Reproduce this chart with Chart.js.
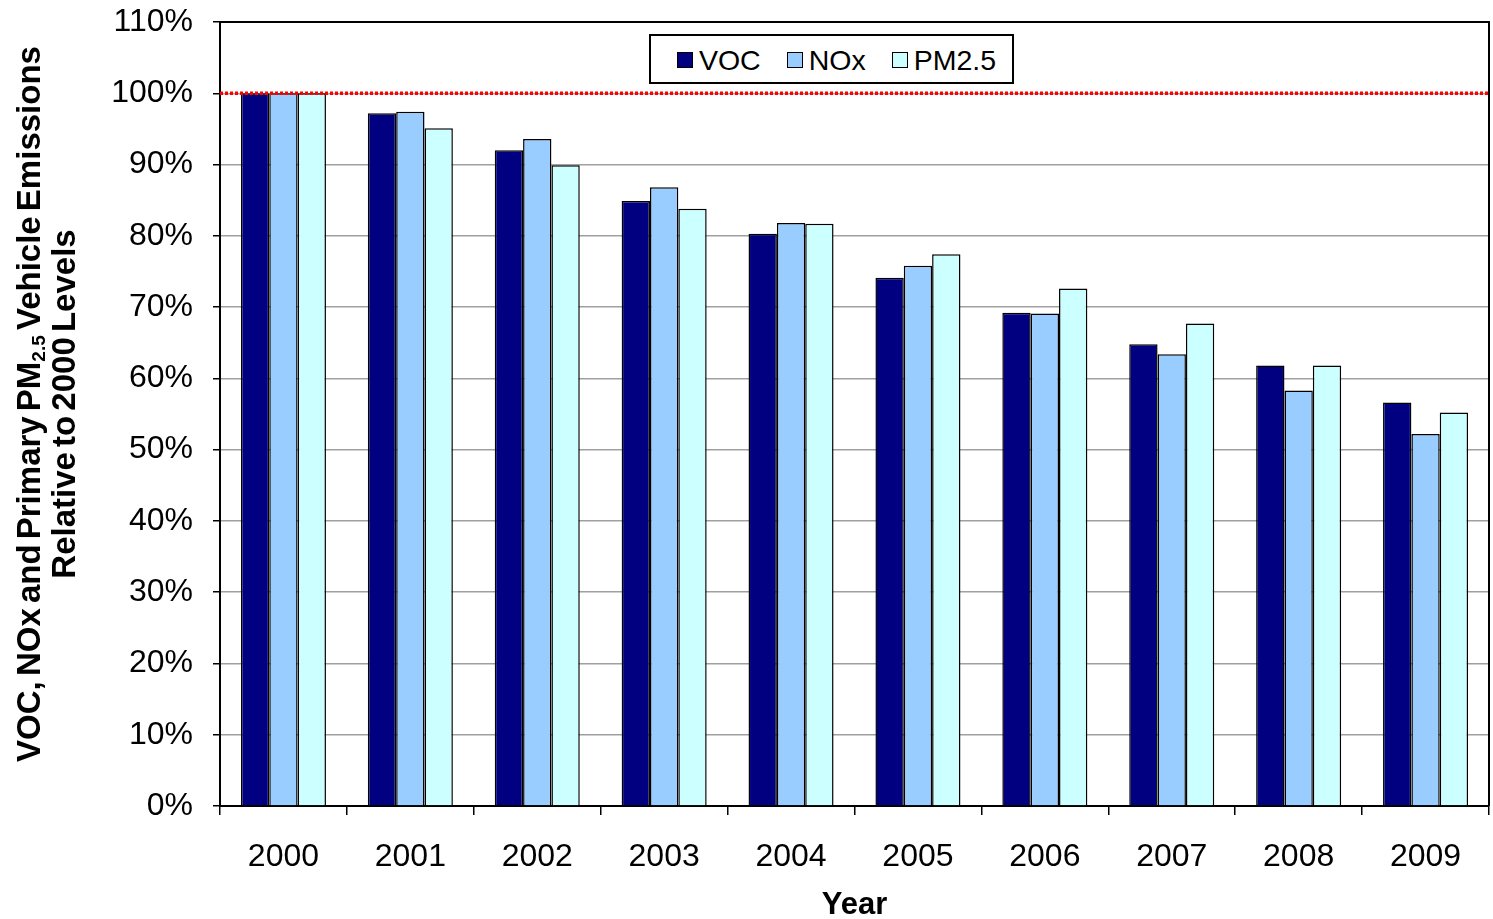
<!DOCTYPE html>
<html>
<head>
<meta charset="utf-8">
<title>Vehicle emissions relative to 2000</title>
<script src="https://cdn.jsdelivr.net/npm/chart.js@4.4.1/dist/chart.umd.min.js"></script>
<style>
    html, body { margin: 0; padding: 0; background: #fff; }
    #wrap { position: relative; width: 1493px; height: 919px; overflow: hidden; }
    #yTitle {
        position: absolute;
        left: -334px;
        top: 369px;
        width: 760px;
        height: 70px;
        transform: rotate(-90deg);
        font-family: "Liberation Sans", Arial, sans-serif;
        font-weight: bold;
        font-size: 33px;
        line-height: 35px;
        word-spacing: -4px;
        text-align: center;
        color: #000;
        white-space: nowrap;
    }
    #yTitle sub { font-size: 19px; vertical-align: -5px; line-height: 0; }
    #legend {
        position: absolute;
        left: 649px;
        top: 34px;
        width: 351px;
        height: 44px;
        border: 2px solid #000;
        background: #fff;
        display: flex;
        align-items: center;
        justify-content: center;
        padding: 2px 0 0 10px;
        box-sizing: content-box;
        font-family: "Liberation Sans", Arial, sans-serif;
        font-size: 28.5px;
        color: #000;
    }
    #legend .item { display: flex; align-items: center; margin: 0 13px; }
    #legend .swatch { width: 14px; height: 14px; border: 1.5px solid #000; margin-right: 6px; }
</style>
</head>
<body>
<div id="wrap">
    <canvas id="chart" width="1493" height="919"></canvas>
    <div id="yTitle">VOC, NOx and Primary PM<sub>2.5</sub> Vehicle Emissions<br>Relative to 2000 Levels</div>
    <div id="legend"></div>
</div>
<script>
// ============================================
// DATA (percent of 2000 level)
// ============================================
const years = ['2000', '2001', '2002', '2003', '2004', '2005', '2006', '2007', '2008', '2009'];
const vocValues = [100, 97.2, 92.0, 84.9, 80.3, 74.1, 69.2, 64.8, 61.8, 56.6];
const noxValues = [100, 97.4, 93.6, 86.8, 81.8, 75.8, 69.1, 63.4, 58.3, 52.2];
const pm25Values = [100, 95.1, 89.9, 83.8, 81.7, 77.4, 72.6, 67.7, 61.8, 55.2];
const seriesNames = ['VOC', 'NOx', 'PM2.5'];
const yTicks = [0, 10, 20, 30, 40, 50, 60, 70, 80, 90, 100, 110];
const referenceLevel = 100;

const seriesColors = ['#000080', '#99CCFF', '#CCFFFF'];
const FONT = '"Liberation Sans", Arial, sans-serif';

// red dotted line at the 2000 level, across the whole plot area
const referenceLinePlugin = {
    id: 'referenceLine',
    afterDatasetsDraw(chart) {
        const { ctx, chartArea, scales } = chart;
        const y = scales.y.getPixelForValue(referenceLevel);
        ctx.save();
        ctx.strokeStyle = '#FF0000';
        ctx.lineWidth = 3.5;
        ctx.setLineDash([3, 2]);
        ctx.beginPath();
        ctx.moveTo(chartArea.left, y);
        ctx.lineTo(chartArea.right, y);
        ctx.stroke();
        ctx.restore();
    }
};

// black frame on top and right of the plot area
const plotFramePlugin = {
    id: 'plotFrame',
    beforeDatasetsDraw(chart) {
        const { ctx, chartArea } = chart;
        ctx.save();
        ctx.strokeStyle = '#000';
        ctx.lineWidth = 2;
        ctx.beginPath();
        ctx.moveTo(chartArea.left, chartArea.top);
        ctx.lineTo(chartArea.right, chartArea.top);
        ctx.lineTo(chartArea.right, chartArea.bottom);
        ctx.stroke();
        ctx.restore();
    }
};

function buildLegend(datasets) {
    const legend = document.getElementById('legend');
    legend.innerHTML = datasets.map(ds => `
        <span class="item"><span class="swatch" style="background:${ds.backgroundColor}"></span>${ds.label}</span>
    `).join('');
}

document.addEventListener('DOMContentLoaded', () => {
    const datasets = [vocValues, noxValues, pm25Values].map((values, i) => ({
        label: seriesNames[i],
        data: values,
        backgroundColor: seriesColors[i],
        borderColor: '#000',
        borderWidth: 1.5,
        categoryPercentage: 0.67,
        barPercentage: 1.0
    }));

    new Chart(document.getElementById('chart'), {
        type: 'bar',
        data: { labels: years, datasets },
        options: {
            responsive: false,
            animation: false,
            layout: { padding: { top: 22, right: 4, bottom: 0, left: 0 } },
            plugins: {
                legend: { display: false },
                tooltip: { enabled: false }
            },
            scales: {
                x: {
                    grid: {
                        offset: true,
                        drawOnChartArea: false,
                        tickLength: 9,
                        tickColor: '#000',
                        lineWidth: 1.5
                    },
                    border: { color: '#000', width: 2 },
                    ticks: {
                        color: '#000',
                        font: { family: FONT, size: 32 },
                        padding: 23,
                        maxRotation: 0
                    },
                    title: {
                        display: true,
                        text: 'Year',
                        color: '#000',
                        font: { family: FONT, size: 31, weight: 'bold', lineHeight: 0.85 },
                        padding: { top: 0, bottom: 0 }
                    },
                    afterFit(scale) { scale.height = 113; }
                },
                y: {
                    min: 0,
                    max: 110,
                    afterBuildTicks(scale) { scale.ticks = yTicks.map(v => ({ value: v })); },
                    grid: {
                        color: '#A0A0A0',
                        lineWidth: 1.5,
                        tickLength: 7,
                        tickColor: '#000'
                    },
                    border: { color: '#000', width: 2 },
                    ticks: {
                        color: '#000',
                        font: { family: FONT, size: 32 },
                        padding: 20,
                        callback: v => v + '%'
                    },
                    afterFit(scale) {
                        // fixed axis width; the label padding should not push the plot down
                        scale.width = 220;
                        scale.paddingTop = 0;
                        scale.paddingBottom = 0;
                    }
                }
            }
        },
        plugins: [plotFramePlugin, referenceLinePlugin]
    });

    buildLegend(datasets);
});
</script>
</body>
</html>
